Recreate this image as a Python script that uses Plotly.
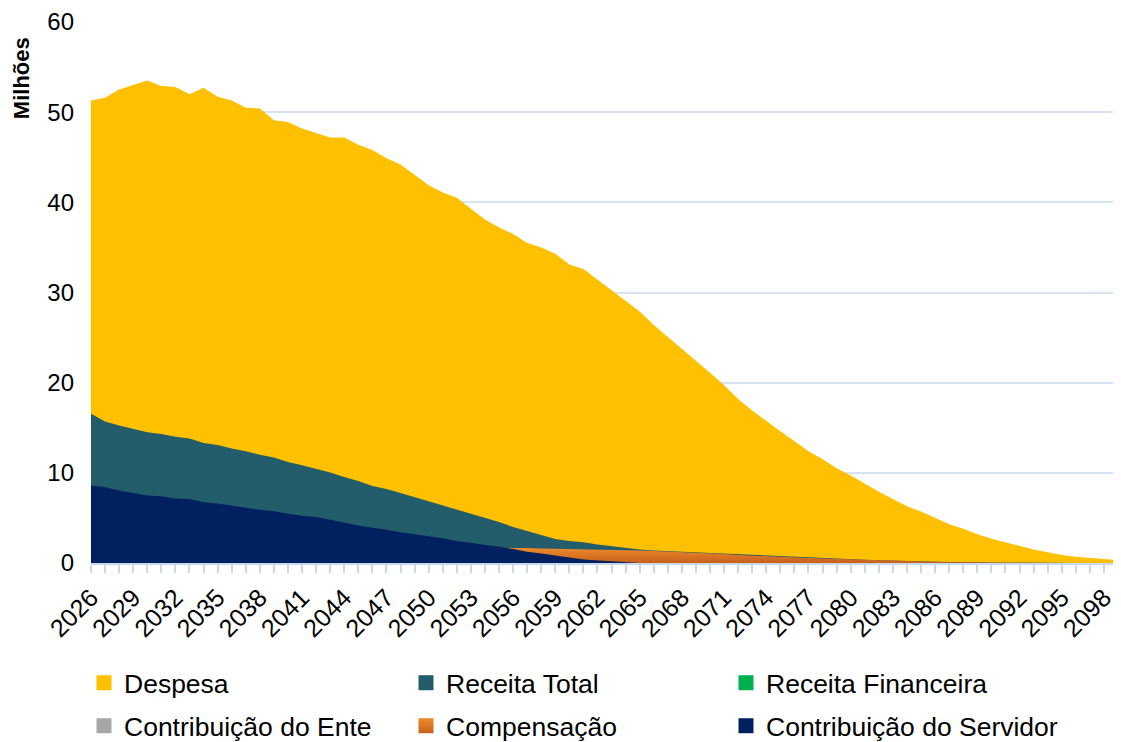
import plotly.graph_objects as go

years = list(range(2026, 2100))

despesa = [51.3, 51.6, 52.5, 53.0, 53.5, 52.9, 52.8, 52.0, 52.7, 51.7,
           51.3, 50.5, 50.4, 49.1, 48.9, 48.2, 47.7, 47.2, 47.2, 46.4,
           45.8, 44.9, 44.2, 43.0, 41.9, 41.1, 40.5, 39.3, 38.1, 37.2,
           36.5, 35.5, 35.0, 34.3, 33.1, 32.6, 31.4, 30.3, 29.0, 27.9,
           26.4, 25.1, 23.7, 22.5, 21.1, 19.7, 18.2, 16.9, 15.7, 14.6,
           13.5, 12.4, 11.5, 10.5, 9.7, 8.8, 7.9, 7.1, 6.3, 5.7,
           5.0, 4.3, 3.8, 3.2, 2.7, 2.3, 1.85, 1.5, 1.2, 0.9,
           0.7, 0.55, 0.4, 0.3]

receita_total = [16.55, 15.7, 15.25, 14.85, 14.5, 14.3, 14.0, 13.8, 13.3, 13.1,
                 12.7, 12.4, 12.0, 11.7, 11.2, 10.85, 10.45, 10.05, 9.55, 9.1,
                 8.55, 8.2, 7.75, 7.3, 6.85, 6.4, 5.9, 5.45, 5.0, 4.55,
                 4.0, 3.55, 3.05, 2.65, 2.45, 2.3, 2.05, 1.85, 1.65, 1.5,
                 1.4, 1.33, 1.25, 1.18, 1.11, 1.04, 0.92, 0.84, 0.77, 0.71,
                 0.65, 0.59, 0.53, 0.47, 0.4, 0.35, 0.3, 0.25, 0.2, 0.16,
                 0.13, 0.1, 0.08, 0.06, 0.05, 0.04, 0.03, 0.02, 0.01, 0.01,
                 0.0, 0.0, 0.0, 0.0]

receita_financeira = [0.0] * len(years)
contribuicao_ente = [0.0] * len(years)

compensacao = [1.55, 1.56, 1.57, 1.58, 1.59, 1.6, 1.61, 1.62, 1.63, 1.64,
               1.65, 1.66, 1.67, 1.68, 1.69, 1.7, 1.7, 1.71, 1.71, 1.72,
               1.72, 1.72, 1.72, 1.72, 1.72, 1.72, 1.72, 1.72, 1.72, 1.72,
               1.7, 1.65, 1.6, 1.58, 1.55, 1.5, 1.47, 1.45, 1.42, 1.4,
               1.34, 1.28, 1.22, 1.15, 1.08, 1.0, 0.88, 0.8, 0.74, 0.68,
               0.62, 0.56, 0.5, 0.45, 0.38, 0.33, 0.28, 0.23, 0.19, 0.15,
               0.12, 0.09, 0.07, 0.05, 0.04, 0.03, 0.02, 0.01, 0.01, 0.0,
               0.0, 0.0, 0.0, 0.0]

contribuicao_servidor = [8.6, 8.4, 8.05, 7.8, 7.5, 7.4, 7.15, 7.1, 6.75, 6.6,
                         6.35, 6.1, 5.9, 5.75, 5.45, 5.25, 5.1, 4.8, 4.45, 4.15,
                         3.9, 3.7, 3.4, 3.2, 2.95, 2.75, 2.45, 2.25, 2.05, 1.8,
                         1.55, 1.25, 1.05, 0.8, 0.6, 0.4, 0.3, 0.15, 0.05, 0.0,
                         0.0, 0.0, 0.0, 0.0, 0.0, 0.0, 0.0, 0.0, 0.0, 0.0,
                         0.0, 0.0, 0.0, 0.0, 0.0, 0.0, 0.0, 0.0, 0.0, 0.0,
                         0.0, 0.0, 0.0, 0.0, 0.0, 0.0, 0.0, 0.0, 0.0, 0.0,
                         0.0, 0.0, 0.0, 0.0]

tick_years = list(range(2026, 2100, 3))
tick_labels = [str(y) for y in tick_years]

C_DESP = "#FFC000"
C_REC = "#235C6A"
C_FIN = "#00B050"
C_ENTE = "#A6A6A6"
C_COMP = "#EE8A2C"
C_COMP2 = "#C8621C"
C_SERV = "#002060"

FONT = "Liberation Sans, Arial, sans-serif"

# page body has an 8px margin, so the figure is sized to fill the rest
W, H = 1113, 734

fig = go.Figure()

def area(y, color, name, **kw):
    fig.add_trace(go.Scatter(
        x=years, y=y, mode="lines", fill="tozeroy", name=name,
        line=dict(width=0, color=color), fillcolor=color,
        showlegend=False, hoverinfo="x+y+name", **kw))

area(despesa, C_DESP, "Despesa")
area(receita_total, C_REC, "Receita Total")
area(receita_financeira, C_FIN, "Receita Financeira")
area(contribuicao_ente, C_ENTE, "Contribuição do Ente")
fig.add_trace(go.Scatter(
    x=years, y=compensacao, mode="lines", fill="tozeroy", name="Compensação",
    line=dict(width=0, color=C_COMP),
    fillgradient=dict(type="vertical", colorscale=[[0, C_COMP2], [1, C_COMP]]),
    showlegend=False))
area(contribuicao_servidor, C_SERV, "Contribuição do Servidor")

# legend entries (square markers), one legend box per entry for a 3x2 grid
legend_cols = [76, 398, 718]
legend_rows = [675, 718]
entries = [
    ("Despesa", C_DESP, None),
    ("Receita Total", C_REC, None),
    ("Receita Financeira", C_FIN, None),
    ("Contribuição do Ente", C_ENTE, None),
    ("Compensação", C_COMP, C_COMP2),
    ("Contribuição do Servidor", C_SERV, None),
]

legend_layout = {}
for i, (name, color, grad) in enumerate(entries):
    key = "legend" if i == 0 else f"legend{i + 1}"
    m = dict(symbol="square", size=15, color=color, line=dict(width=0))
    if grad:
        m["gradient"] = dict(type="vertical", color=grad)
    fig.add_trace(go.Scatter(
        x=[None], y=[None], mode="markers", name=name, marker=m,
        legend=key, showlegend=True))
    legend_layout[key] = dict(
        x=legend_cols[i % 3] / W, y=1 - legend_rows[i // 3] / H,
        xref="container", yref="container",
        xanchor="left", yanchor="middle", orientation="h",
        font=dict(family=FONT, size=26.5, color="#000000"),
        bgcolor="rgba(0,0,0,0)", borderwidth=0, itemwidth=30,
    )

fig.update_layout(
    width=W, height=H,
    paper_bgcolor="white", plot_bgcolor="white",
    margin=dict(l=83, r=3, t=14, b=179, autoexpand=False),
    font=dict(family=FONT, size=24, color="#000000"),
    xaxis=dict(
        range=[2026, 2099], tickmode="array", tickvals=tick_years,
        ticktext=tick_labels, tickangle=-45, automargin=False,
        tickfont=dict(family=FONT, size=25, color="#000000"),
        showgrid=False, zeroline=False,
        showline=True, linecolor="#C9D8EC", linewidth=2,
        ticks="outside", ticklen=8, tickcolor="#C9D8EC", tickwidth=2,
        minor=dict(dtick=1, tick0=2026, ticks="outside", ticklen=8,
                   tickcolor="#C9D8EC", tickwidth=2, showgrid=False),
    ),
    yaxis=dict(
        range=[0, 60], dtick=10, tick0=0, automargin=False,
        tickfont=dict(family=FONT, size=24, color="#000000"),
        showgrid=True, gridcolor="#D6E3F3", gridwidth=1.5,
        zeroline=False, showline=False, ticks="", ticklabelstandoff=16,
    ),
    annotations=[dict(
        text="<b>Milhões</b>", textangle=-90, showarrow=False,
        xref="paper", yref="paper", x=-0.067, y=0.976,
        xanchor="center", yanchor="top",
        font=dict(family=FONT, size=22, color="#000000"),
    )],
    **legend_layout,
)

fig.write_html("out.html")
